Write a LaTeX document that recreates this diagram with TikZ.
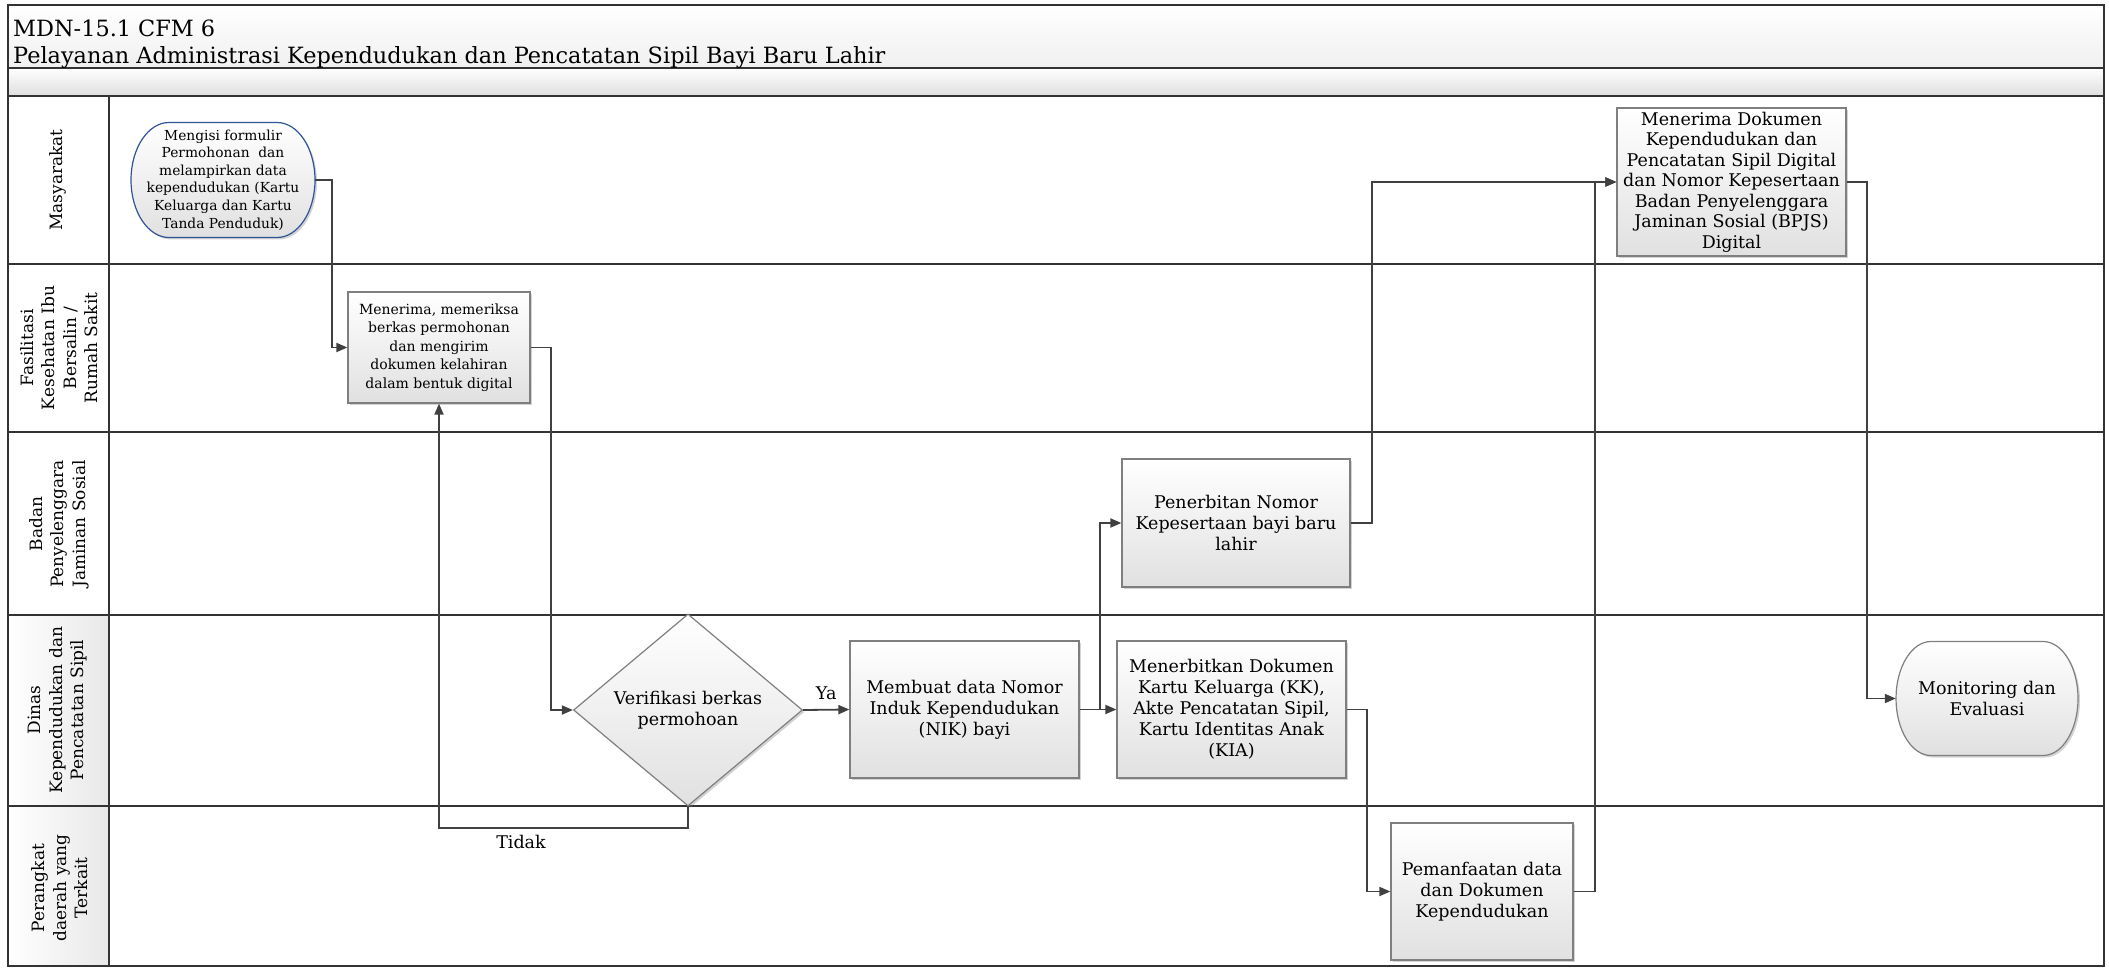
\documentclass[tikz,border=0pt]{standalone}
\usepackage{fontspec}
\setmainfont{DejaVu Serif}
\usetikzlibrary{arrows.meta,shapes.geometric,shadows}

\definecolor{lineclr}{HTML}{404040}
\definecolor{boxclr}{HTML}{7F7F7F}
\definecolor{startclr}{HTML}{2F5597}
\definecolor{laneclr}{HTML}{333333}

\tikzset{
  flow/.style={draw=lineclr, line width=1.8pt, -{Triangle[length=11pt,width=9pt]}},
  lane/.style={draw=laneclr, line width=1.8pt},
  procbox/.style={rectangle, draw=boxclr, line width=1.2pt, top color=white, bottom color=black!12,
    drop shadow={shadow xshift=2pt, shadow yshift=-2pt, opacity=0.35},
    align=center, inner sep=0pt, font=\fontsize{17.5}{21}\selectfont},
  decbox/.style={diamond, draw=boxclr, line width=1.2pt, top color=white, bottom color=black!12,
    drop shadow={shadow xshift=2pt, shadow yshift=-2pt, opacity=0.35},
    minimum width=229pt, minimum height=192pt, inner sep=0pt, align=center,
    font=\fontsize{17.5}{21.5}\selectfont},
  termline/.style={line width=1.2pt, top color=white, bottom color=black!12,
    drop shadow={shadow xshift=2pt, shadow yshift=-2pt, opacity=0.35}},
  termtext/.style={inner sep=0pt, align=center},
  lanelabel/.style={rotate=90, align=center, inner sep=0pt, font=\fontsize{17}{21.5}\selectfont},
  titletext/.style={inner sep=0pt, font=\fontsize{22.4}{26}\selectfont},
  lbl/.style={inner sep=0pt, font=\fontsize{17.5}{21}\selectfont}
}

\begin{document}
\begin{tikzpicture}[x=1pt, y=-1pt]
  \useasboundingbox (0,0) rectangle (2109,968);

  % header bands and shaded lane cells
  \fill[top color=white, bottom color=black!6] (8,5) rectangle (2104,68);
  \fill[top color=white, bottom color=black!13] (8,68) rectangle (2104,96);
  \fill[left color=white, right color=black!9] (8,615) rectangle (109,966);

  % swimlane grid
  \draw[lane] (8,5) rectangle (2104,966);
  \foreach \y in {68,96,264,432,615,806}
    \draw[lane] (8,\y) -- (2104,\y);
  \draw[lane] (109,96) -- (109,966);

  % title
  \node[titletext, anchor=base west] (kode) at (13,37) {MDN-15.1 CFM 6};
  \node[titletext, anchor=base west] (judul) at (13,64) {Pelayanan Administrasi Kependudukan dan Pencatatan Sipil Bayi Baru Lahir};

  % lane labels
  \node[lanelabel] (lmasy) at (58,180) {Masyarakat};
  \node[lanelabel] (lfaskes) at (59,348) {Fasilitasi\\Kesehatan Ibu\\Bersalin /\\Rumah Sakit};
  \node[lanelabel] (lbpjs) at (59,524) {Badan\\Penyelenggara\\Jaminan Sosial};
  \node[lanelabel] (ldukcapil) at (58,710) {Dinas\\Kependudukan dan\\Pencatatan Sipil};
  \node[lanelabel] (lopd) at (60,888) {Perangkat\\daerah yang\\Terkait};

  % start terminator
  \draw[termline, draw=startclr] (277,122.5) arc[start angle=90, end angle=-90, x radius=38pt, y radius=57.5pt]
    -- (169,237.5) arc[start angle=270, end angle=90, x radius=38pt, y radius=57.5pt] -- cycle;
  \node[termtext, minimum width=184pt, minimum height=115pt, font=\fontsize{13.8}{17.6}\selectfont] (mulai) at (223,180)
    {Mengisi formulir\\Permohonan~ dan\\melampirkan data\\kependudukan (Kartu\\Keluarga dan Kartu\\Tanda Penduduk)};

  % process steps
  \node[procbox, minimum width=182pt, minimum height=111pt, font=\fontsize{14}{18.4}\selectfont] (terima) at (439,347.5)
    {Menerima, memeriksa\\berkas permohonan\\dan mengirim\\dokumen kelahiran\\dalam bentuk digital};
  \node[decbox] (verif) at (688,710) {Verifikasi berkas\\permohoan};
  \node[procbox, minimum width=229pt, minimum height=137pt] (nik) at (964.5,709.5)
    {Membuat data Nomor\\Induk Kependudukan\\(NIK) bayi};
  \node[procbox, minimum width=229pt, minimum height=137pt] (dokumen) at (1231.5,709.5)
    {Menerbitkan Dokumen\\Kartu Keluarga (KK),\\Akte Pencatatan Sipil,\\Kartu Identitas Anak\\(KIA)};
  \node[procbox, minimum width=228pt, minimum height=128pt] (kepesertaan) at (1236,523)
    {Penerbitan Nomor\\Kepesertaan bayi baru\\lahir};
  \node[procbox, minimum width=182pt, minimum height=137pt] (manfaat) at (1482,891.5)
    {Pemanfaatan data\\dan Dokumen\\Kependudukan};
  \node[procbox, minimum width=229pt, minimum height=148pt, font=\fontsize{17.5}{20.5}\selectfont] (digital) at (1731.5,182)
    {Menerima Dokumen\\Kependudukan dan\\Pencatatan Sipil Digital\\dan Nomor Kepesertaan\\Badan Penyelenggara\\Jaminan Sosial (BPJS)\\Digital};

  % end terminator
  \draw[termline, draw=boxclr] (2043,641.5) arc[start angle=90, end angle=-90, x radius=35pt, y radius=57pt]
    -- (1931,755.5) arc[start angle=270, end angle=90, x radius=35pt, y radius=57pt] -- cycle;
  \node[termtext, minimum width=182pt, minimum height=114pt, font=\fontsize{17.5}{21}\selectfont] (monev) at (1987,698.5)
    {Monitoring dan\\Evaluasi};

  % connectors
  \draw[flow] (mulai.east) -- ++(17,0) |- (terima.west);
  \draw[flow] (terima.east) -- ++(20,0) |- (verif.west);
  \draw[flow] (verif.south) -- ++(0,21) -| (terima.south);
  \node[lbl] (tidak) at (521,842) {Tidak};
  \draw[flow] (verif.east) -- (nik.west) node[lbl, midway, above=9pt] (ya) {Ya};
  \draw[flow] (nik.east) -- (dokumen.west);
  \draw[flow] (nik.east) -- ++(20,0) |- (kepesertaan.west);
  \draw[flow] (dokumen.east) -- ++(20,0) |- (manfaat.west);
  \draw[flow] (kepesertaan.east) -- ++(21,0) |- (digital.west);
  \draw[flow] (manfaat.east) -- ++(21,0) |- (digital.west);
  \draw[flow] (digital.east) -- ++(20,0) |- (monev.west);
\end{tikzpicture}
\end{document}
